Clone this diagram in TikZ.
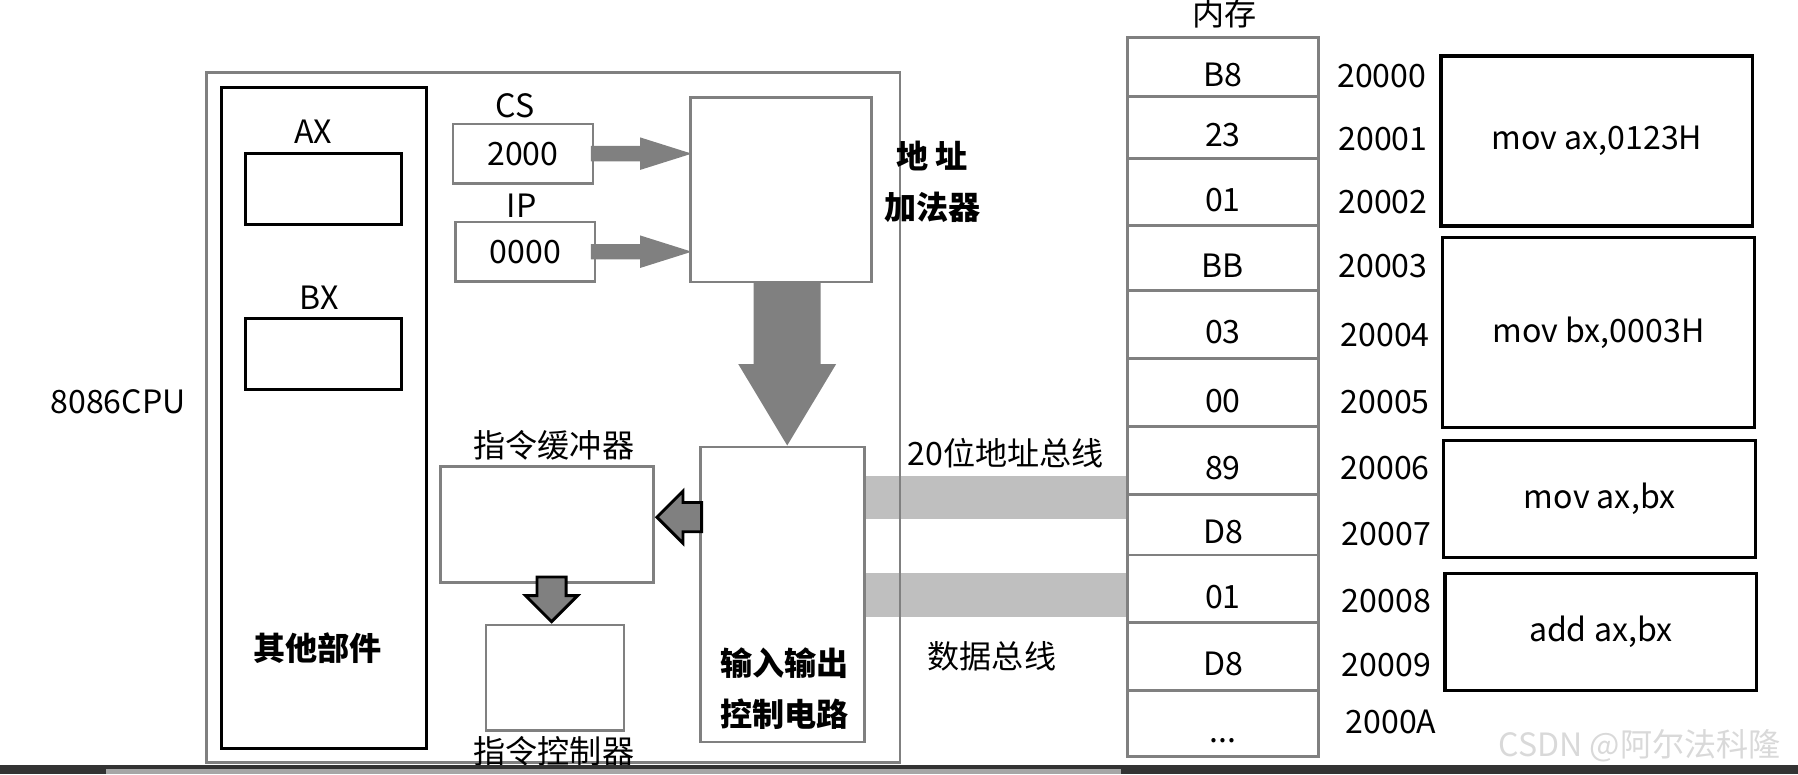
\documentclass[tikz,border=0pt]{standalone}
\usepackage{fontspec}
\setmainfont{Noto Sans CJK SC}
\usepackage{tikz}
\usetikzlibrary{shapes.arrows,calc,backgrounds}

\begin{document}
\begin{tikzpicture}[
  x=1pt, y=-1pt,
  font=\fontsize{28}{45}\selectfont,
  gbox/.style={draw=gray, line width=2.2pt, inner sep=0pt},
  kbox/.style={draw=black, line width=2.8pt, inner sep=0pt},
  reg/.style={kbox, minimum width=136pt, minimum height=62pt},
  segreg/.style={gbox, minimum width=122pt, minimum height=52pt},
  cell/.style={gbox, line width=2.5pt, minimum width=167pt, text height=34pt},
  instr/.style={kbox, line width=3pt, minimum width=272pt},
  lbl/.style={inner sep=0pt},
  blbl/.style={inner sep=0pt, align=center, font=\fontsize{28}{45}\selectfont\bfseries},
  bus/.style={draw=black!25, line width=38pt},
  fatarrow/.style={single arrow, fill=gray, anchor=tip},
  smallarrow/.style={single arrow, fill=gray, draw=black, line width=2.5pt, inner sep=11.5pt,
                     anchor=tip, minimum height=39pt, minimum width=44pt,
                     single arrow head extend=10pt, single arrow tip angle=90},
]
\useasboundingbox (0,0) rectangle (1568,675);

% cpu
\node[gbox, minimum width=605pt, minimum height=602pt] (cpu) at (482.5,364) {};
\node[lbl] (cpulbl) at (103,350) {8086CPU};
\node[kbox, minimum width=179pt, minimum height=577pt] (other) at (282.5,364.5) {};
\node[blbl] (otherlbl) at (277,565) {其他部件};
\node[lbl] (axlbl) at (273,115) {AX};
\node[reg] (ax) at (282,165) {};
\node[lbl] (bxlbl) at (278,260) {BX};
\node[reg] (bx) at (282,309) {};
\node[lbl] (cslbl) at (449,92) {CS};
\node[segreg] (cs) at (456,134) {2000};
\node[lbl] (iplbl) at (455,179) {IP};
\node[segreg] (ip) at (458,219.5) {0000};
\node[gbox, minimum width=158pt, minimum height=161pt] (adder) at (681,165.5) {};
\node[blbl] (adderlbl) at (813,158.5) {地 址\\加法器};
\node[gbox, minimum width=143pt, minimum height=257pt] (io) at (682.5,518.5) {};
\node[blbl] (iolbl) at (684,600.5) {输入输出\\控制电路};
\node[lbl] (buflbl) at (483,388) {指令缓冲器};
\node[gbox, minimum width=186pt, minimum height=101pt] (buf) at (477,457.5) {};
\node[gbox, minimum width=120pt, minimum height=92pt] (ctl) at (484,591) {};
\node[lbl] (ctllbl) at (483,655) {指令控制器};

% block arrows
\node[fatarrow, inner sep=6.5pt, minimum height=88pt, minimum width=28pt, single arrow head extend=7.5pt,
      single arrow tip angle=35] (csarr) at ([xshift=3pt]adder.west |- cs.east) {};
\node[fatarrow, inner sep=6.5pt, minimum height=88pt, minimum width=28pt, single arrow head extend=7.5pt,
      single arrow tip angle=35] (iparr) at ([xshift=3pt]adder.west |- ip.east) {};
\node[fatarrow, inner sep=29pt, shape border rotate=270, minimum height=142pt, minimum width=85pt,
      single arrow head extend=13.5pt, single arrow tip angle=62] (addrarr) at ([xshift=4pt]io.north) {};
\node[smallarrow, shape border rotate=180] (fetch) at (buf.east |- 0,451) {};
\node[smallarrow, shape border rotate=270] (decode) at ([xshift=-3pt]ctl.north) {};

% memory
\node[lbl] (memlbl) at (1068,12) {内存};
\node[cell, minimum height=51pt] (m0) at (1066.5,58.5) {B8};
\node[cell, minimum height=54pt] (m1) at (1066.5,111) {23};
\node[cell, minimum height=59pt] (m2) at (1066.5,167.5) {01};
\node[cell, minimum height=56pt] (m3) at (1066.5,225) {BB};
\node[cell, minimum height=60pt] (m4) at (1066.5,283) {03};
\node[cell, minimum height=59pt] (m5) at (1066.5,342.5) {00};
\node[cell, minimum height=59pt] (m6) at (1066.5,401.5) {89};
\node[cell, minimum height=53pt] (m7) at (1066.5,457.5) {D8};
\node[cell, minimum height=59pt] (m8) at (1066.5,513.5) {01};
\node[cell, minimum height=59pt] (m9) at (1066.5,572.5) {D8};
\node[cell, minimum height=58pt] (m10) at (1066.5,631) {...};

\node[lbl] (a0) at (1205,66) {20000};
\node[lbl] (a1) at (1206,121) {20001};
\node[lbl] (a2) at (1206,176) {20002};
\node[lbl] (a3) at (1206,232) {20003};
\node[lbl] (a4) at (1208,292) {20004};
\node[lbl] (a5) at (1208,351) {20005};
\node[lbl] (a6) at (1208,408) {20006};
\node[lbl] (a7) at (1209,466) {20007};
\node[lbl] (a8) at (1209,524) {20008};
\node[lbl] (a9) at (1209,580) {20009};
\node[lbl] (a10) at (1213,630) {2000A};

\node[instr, minimum height=148pt] (i1) at (1392.5,123) {mov ax,0123H};
\node[instr, minimum height=166pt] (i2) at (1394,290) {mov bx,0003H};
\node[instr, minimum height=102pt] (i3) at (1395,435) {mov ax,bx};
\node[instr, minimum height=102pt] (i4) at (1396,551) {add ax,bx};

% buses
\begin{scope}[on background layer]
\draw[bus] (io.east |- 0,434) -- (m6.west |- 0,434);
\draw[bus] (io.east |- 0,519) -- (m8.west |- 0,519);
\end{scope}
\node[lbl] (abuslbl) at (877,395) {20位地址总线};
\node[lbl] (dbuslbl) at (865,572) {数据总线};

\node[lbl, text=black!15] (mark) at (1430,650) {CSDN @阿尔法科隆};
\fill[black!80] (0,667) rectangle (1568,675);
\fill[black!35] (92.5,670.5) rectangle (978,675);
\end{tikzpicture}
\end{document}
